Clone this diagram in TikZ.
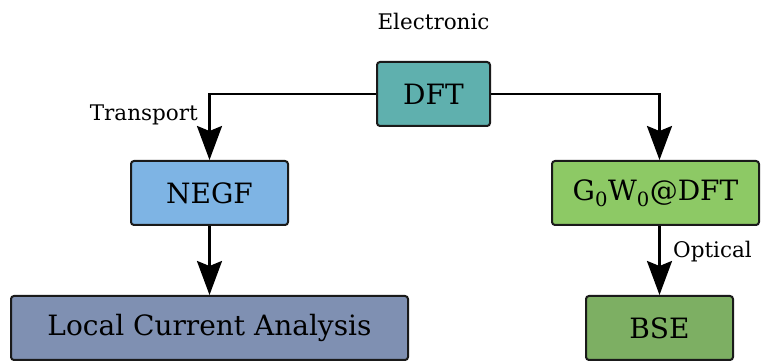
\documentclass[tikz,border=0pt]{standalone}
\usepackage{fontspec}
\setmainfont{DejaVu Serif}
\usetikzlibrary{arrows.meta}
\definecolor{cdft}{HTML}{5FB0AE}
\definecolor{cnegf}{HTML}{7EB4E4}
\definecolor{cgw}{HTML}{8DC965}
\definecolor{clca}{HTML}{7F90B2}
\definecolor{cbse}{HTML}{7DAF63}
\definecolor{cedge}{HTML}{1A1A1A}
\tikzset{
  box/.style={draw=cedge, line width=2pt, rounded corners=3pt, minimum height=64pt, inner sep=0pt, font=\fontsize{28}{32}\selectfont},
  arr/.style={line width=2.6pt, -{Stealth[length=34pt,width=25pt,inset=5pt]}},
  lbl/.style={font=\fontsize{21.5}{25}\selectfont, inner sep=0pt}
}
\begin{document}
\begin{tikzpicture}[x=1pt,y=1pt]
\useasboundingbox (0,0) rectangle (761,361);
\node[box, fill=cdft, minimum width=113pt] (dft) at (433.5,267) {DFT};
\node[box, fill=cnegf, minimum width=157pt] (negf) at (209.5,168) {NEGF};
\node[box, fill=cgw, minimum width=207pt] (gw) at (655.5,168) {G\textsubscript{0}W\textsubscript{0}@DFT};
\node[box, fill=clca, minimum width=397pt] (lca) at (209.5,33) {Local Current Analysis};
\node[box, fill=cbse, minimum width=147pt] (bse) at (659.5,33) {BSE};
\node[lbl] (el) at (433.5,340) {Electronic};
\node[lbl, anchor=east] (tr) at (198,246) {Transport};
\node[lbl, anchor=west] (op) at (673,109) {Optical};
\draw[arr] (dft.west) -| (negf.north);
\draw[arr] (dft.east) -| (bse.north |- gw.north);
\draw[arr] (negf.south) -- (lca.north);
\draw[arr] (bse.north |- gw.south) -- (bse.north);
\end{tikzpicture}
\end{document}
